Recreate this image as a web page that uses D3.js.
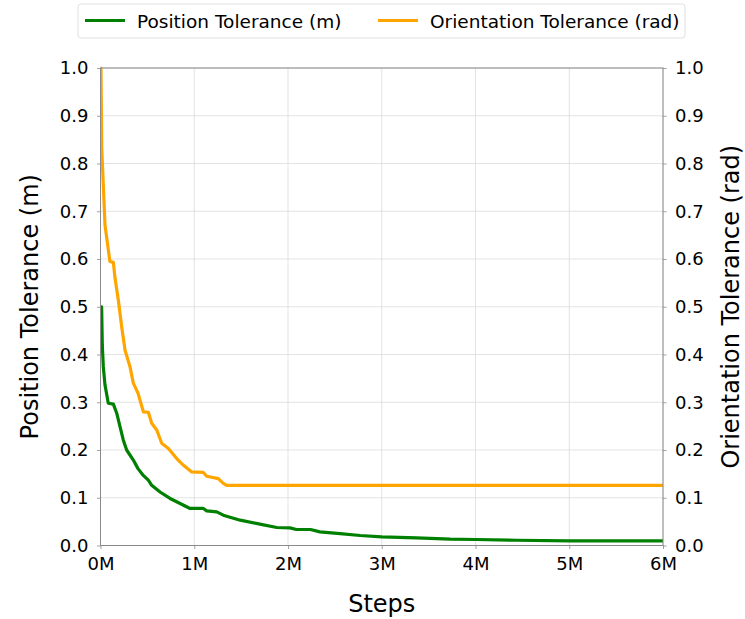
<!DOCTYPE html>
<html>
<head>
<meta charset="utf-8">
<script src="https://cdn.jsdelivr.net/npm/d3@7"></script>
<style>
  html, body { margin: 0; padding: 0; background: #fff; }
  text { font-family: "DejaVu Sans", sans-serif; fill: #000; }
</style>
</head>
<body>
<svg id="chart" width="745" height="619"></svg>
<script>
// Training steps (millions) and tolerance curriculum values
const positionSteps = [0, 0.012, 0.019, 0.03, 0.048, 0.083, 0.137, 0.173, 0.208, 0.243, 0.279, 0.35, 0.40, 0.45, 0.51, 0.546, 0.635, 0.742, 0.849, 0.955, 1.097, 1.133, 1.24, 1.31, 1.49, 1.70, 1.88, 2.02, 2.09, 2.24, 2.34, 2.556, 2.77, 3.0, 3.37, 3.73, 4.0, 4.44, 5.0, 6.0];
const positionTol   = [0.5, 0.5, 0.42, 0.374, 0.336, 0.298, 0.296, 0.277, 0.249, 0.221, 0.20, 0.179, 0.161, 0.148, 0.137, 0.126, 0.112, 0.0985, 0.088, 0.0776, 0.0776, 0.0725, 0.0704, 0.0635, 0.053, 0.0447, 0.0377, 0.037, 0.0335, 0.0335, 0.0285, 0.025, 0.021, 0.018, 0.016, 0.0132, 0.0126, 0.011, 0.0097, 0.0097];

const orientationSteps = [0, 0.005, 0.013, 0.03, 0.048, 0.083, 0.10, 0.137, 0.155, 0.19, 0.226, 0.262, 0.315, 0.35, 0.40, 0.457, 0.51, 0.546, 0.60, 0.653, 0.724, 0.813, 0.885, 0.973, 1.097, 1.133, 1.257, 1.31, 1.346, 6.0];
const orientationTol   = [1.0, 1.0, 0.832, 0.755, 0.671, 0.62, 0.595, 0.593, 0.56, 0.514, 0.458, 0.409, 0.374, 0.34, 0.319, 0.28, 0.279, 0.256, 0.242, 0.214, 0.203, 0.182, 0.168, 0.154, 0.153, 0.145, 0.14, 0.13, 0.126, 0.126];

const xTicks = [0, 1, 2, 3, 4, 5, 6];
const xTickLabels = ["0M", "1M", "2M", "3M", "4M", "5M", "6M"];
const yTicks = [0, 0.1, 0.2, 0.3, 0.4, 0.5, 0.6, 0.7, 0.8, 0.9, 1.0];

const seriesNames = ["Position Tolerance (m)", "Orientation Tolerance (rad)"];
const seriesColors = ["#008000", "#ffa500"];

const svg = d3.select("#chart");
const margin = { left: 100.5, right: 745 - 663, top: 68, bottom: 619 - 545.5 };
const W = 745, H = 619;

const x = d3.scaleLinear().domain([0, 6]).range([margin.left, W - margin.right]);
const yL = d3.scaleLinear().domain([0, 1]).range([H - margin.bottom, margin.top]);
const yR = d3.scaleLinear().domain([0, 1]).range([H - margin.bottom, margin.top]);

// grid
const grid = svg.append("g");
grid.selectAll("line.gx").data(xTicks).join("line")
  .attr("x1", d => x(d)).attr("x2", d => x(d))
  .attr("y1", yL(0)).attr("y2", yL(1))
  .attr("stroke", "#dcdcdc").attr("stroke-width", 0.8);
grid.selectAll("line.gy").data(yTicks).join("line")
  .attr("x1", x(0)).attr("x2", x(6))
  .attr("y1", d => yL(d)).attr("y2", d => yL(d))
  .attr("stroke", "#dcdcdc").attr("stroke-width", 0.8);

// lines
const lineL = d3.line().x(d => x(d[0])).y(d => yL(d[1]));
const lineR = d3.line().x(d => x(d[0])).y(d => yR(d[1]));
const clip = svg.append("clipPath").attr("id", "clip").append("rect")
  .attr("x", x(0)).attr("y", yL(1) - 2).attr("width", x(6) - x(0)).attr("height", yL(0) - yL(1) + 4);
svg.append("path")
  .datum(d3.zip(positionSteps, positionTol))
  .attr("d", lineL).attr("fill", "none")
  .attr("stroke", seriesColors[0]).attr("stroke-width", 3.2).attr("stroke-linejoin", "round")
  .attr("clip-path", "url(#clip)");
svg.append("path")
  .datum(d3.zip(orientationSteps, orientationTol))
  .attr("d", lineR).attr("fill", "none")
  .attr("stroke", seriesColors[1]).attr("stroke-width", 3.2).attr("stroke-linejoin", "round")
  .attr("clip-path", "url(#clip)");

// axes
const axisColor = "#8a8a8a";
function styleAxis(g) {
  g.select(".domain").remove();
  g.selectAll(".tick line").attr("stroke", axisColor).attr("stroke-width", 0.8);
  g.selectAll(".tick text").style("font-family", "DejaVu Sans, sans-serif").style("font-size", "18px").attr("fill", "#000");
}
svg.append("g").attr("transform", `translate(0,${yL(0)})`)
  .call(d3.axisBottom(x).tickValues(xTicks).tickFormat((d, i) => xTickLabels[i]).tickSize(3.5).tickPadding(8))
  .call(styleAxis);
svg.append("g").attr("transform", `translate(${x(0)},0)`)
  .call(d3.axisLeft(yL).tickValues(yTicks).tickFormat(d3.format(".1f")).tickSize(3.5).tickPadding(8.5))
  .call(styleAxis);
svg.append("g").attr("transform", `translate(${x(6)},0)`)
  .call(d3.axisRight(yR).tickValues(yTicks).tickFormat(d3.format(".1f")).tickSize(3.5).tickPadding(8.5))
  .call(styleAxis);

// frame
svg.append("rect")
  .attr("x", x(0)).attr("y", yL(1)).attr("width", x(6) - x(0)).attr("height", yL(0) - yL(1))
  .attr("fill", "none").attr("stroke", axisColor).attr("stroke-width", 1);

// axis titles
svg.append("text").attr("x", (x(0) + x(6)) / 2).attr("y", 612)
  .attr("text-anchor", "middle").style("font-size", "24px").text("Steps");
svg.append("text").attr("transform", `translate(38,${(yL(0) + yL(1)) / 2}) rotate(-90)`)
  .attr("text-anchor", "middle").style("font-size", "24px").text("Position Tolerance (m)");
svg.append("text").attr("transform", `translate(739,${(yL(0) + yL(1)) / 2}) rotate(-90)`)
  .attr("text-anchor", "middle").style("font-size", "24px").text("Orientation Tolerance (rad)");

// legend
const legend = svg.append("g");
legend.append("rect").attr("x", 78).attr("y", 4).attr("width", 607).attr("height", 34).attr("rx", 3)
  .attr("fill", "#fff").attr("stroke", "#e0e0e0").attr("stroke-width", 1);
const legendX = [85, 378];
seriesNames.forEach((name, i) => {
  legend.append("line").attr("x1", legendX[i]).attr("x2", legendX[i] + 40)
    .attr("y1", 20.5).attr("y2", 20.5).attr("stroke", seriesColors[i]).attr("stroke-width", 3.2);
  legend.append("text").attr("x", legendX[i] + 52).attr("y", 27.5)
    .style("font-size", "18.5px").text(name);
});
</script>
</body>
</html>
